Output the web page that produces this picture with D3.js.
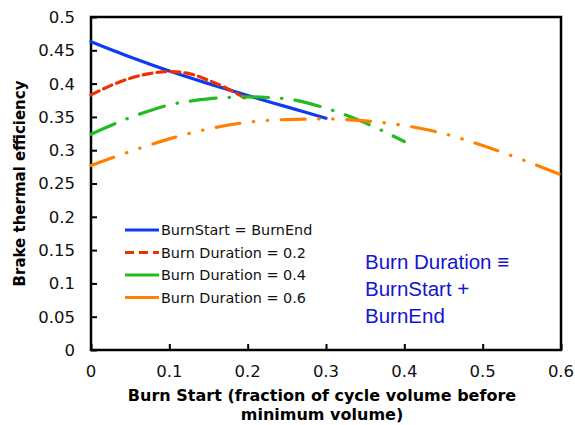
<!DOCTYPE html>
<html>
<head>
<meta charset="utf-8">
<script src="https://cdn.jsdelivr.net/npm/d3@7"></script>
<style>
  html, body { margin: 0; padding: 0; background: #fff; }
  svg { display: block; }
</style>
</head>
<body>
<svg id="chart" width="575" height="425"></svg>
<script>
// Brake thermal efficiency vs. burn start, one curve per burn duration
const burnStartEqualEnd = [
  [0.00, 0.463], [0.05, 0.440], [0.10, 0.419], [0.15, 0.400],
  [0.20, 0.382], [0.25, 0.365], [0.30, 0.348]
];
const burnDuration02 = [
  [0.00, 0.383], [0.025, 0.397], [0.05, 0.408], [0.075, 0.415], [0.10, 0.418],
  [0.125, 0.415], [0.15, 0.405], [0.175, 0.392], [0.20, 0.376]
];
const burnDuration04 = [
  [0.00, 0.324], [0.05, 0.349], [0.10, 0.368], [0.15, 0.377], [0.20, 0.380],
  [0.25, 0.377], [0.30, 0.363], [0.35, 0.341], [0.40, 0.313]
];
const burnDuration06 = [
  [0.00, 0.277], [0.05, 0.298], [0.10, 0.317], [0.15, 0.332], [0.20, 0.342],
  [0.25, 0.346], [0.30, 0.347], [0.35, 0.344], [0.40, 0.337], [0.45, 0.325],
  [0.50, 0.307], [0.55, 0.286], [0.60, 0.263]
];
const seriesNames = ["BurnStart = BurnEnd", "Burn Duration = 0.2", "Burn Duration = 0.4", "Burn Duration = 0.6"];
const xTicks = [0, 0.1, 0.2, 0.3, 0.4, 0.5, 0.6];
const yTicks = [0, 0.05, 0.1, 0.15, 0.2, 0.25, 0.3, 0.35, 0.4, 0.45, 0.5];

const series = [
  { name: seriesNames[0], data: burnStartEqualEnd, color: "#0a3cf0", dash: null,               legendDash: null },
  { name: seriesNames[1], data: burnDuration02,    color: "#ee3000", dash: "9,5",              legendDash: "9,5" },
  { name: seriesNames[2], data: burnDuration04,    color: "#22bb22", dash: "26,13,0.5,13",     legendDash: null },
  { name: seriesNames[3], data: burnDuration06,    color: "#ff8000", dash: "24,13.5,0.5,13.5,0.5,13.5", legendDash: null }
];

const svg = d3.select("#chart");
const m = { left: 91, right: 561, top: 17, bottom: 350 };

const x = d3.scaleLinear().domain([0, 0.6]).range([m.left, m.right]);
const y = d3.scaleLinear().domain([0, 0.5]).range([m.bottom, m.top]);

const sans = "'DejaVu Sans', Verdana, sans-serif";

// Plot frame
svg.append("rect")
  .attr("x", m.left).attr("y", m.top)
  .attr("width", m.right - m.left).attr("height", m.bottom - m.top)
  .attr("fill", "none").attr("stroke", "#000").attr("stroke-width", 2.5);

// Y axis: ticks point inward
const yAxis = svg.append("g")
  .attr("transform", `translate(${m.left},0)`)
  .call(d3.axisRight(y).tickValues(yTicks).tickSize(6).tickFormat(""));
yAxis.select(".domain").remove();
yAxis.selectAll("line").attr("stroke", "#000").attr("stroke-width", 2);
svg.append("g").selectAll("text").data(yTicks).join("text")
  .attr("x", 75).attr("y", d => y(d)).attr("dy", "0.36em")
  .attr("text-anchor", "end")
  .attr("font-family", sans).attr("font-size", 16.5).attr("fill", "#111")
  .text(d => d3.format("~g")(d));

// X axis: ticks point inward
const xAxis = svg.append("g")
  .attr("transform", `translate(0,${m.bottom})`)
  .call(d3.axisTop(x).tickValues(xTicks).tickSize(6).tickFormat(""));
xAxis.select(".domain").remove();
xAxis.selectAll("line").attr("stroke", "#000").attr("stroke-width", 2);
svg.append("g").selectAll("text").data(xTicks).join("text")
  .attr("x", d => x(d)).attr("y", 377)
  .attr("text-anchor", "middle")
  .attr("font-family", sans).attr("font-size", 16.5).attr("fill", "#111")
  .text(d => d3.format("~g")(d));

// Axis titles
const xTitle = ["Burn Start (fraction of cycle volume before", "minimum volume)"];
svg.append("g").selectAll("text").data(xTitle).join("text")
  .attr("x", 322).attr("y", (d, i) => 400.5 + i * 19.5)
  .attr("text-anchor", "middle")
  .attr("font-family", sans).attr("font-weight", "bold").attr("font-size", 16)
  .text(d => d);
svg.append("text")
  .attr("transform", `translate(25,${(m.top + m.bottom) / 2}) rotate(-90)`)
  .attr("text-anchor", "middle")
  .attr("font-family", sans).attr("font-weight", "bold").attr("font-size", 15)
  .text("Brake thermal efficiency");

// Curves
const line = d3.line()
  .x(d => x(d[0])).y(d => y(d[1]))
  .curve(d3.curveMonotoneX);

svg.append("g").selectAll("path").data(series).join("path")
  .attr("d", d => line(d.data))
  .attr("fill", "none")
  .attr("stroke", d => d.color)
  .attr("stroke-width", 3.2)
  .attr("stroke-linecap", "round")
  .attr("stroke-dasharray", d => d.dash);

// Legend
const legend = svg.append("g");
const rows = legend.selectAll("g").data(series).join("g")
  .attr("transform", (d, i) => `translate(0,${230 + i * 22.5})`);
rows.append("line")
  .attr("x1", 125).attr("x2", 159).attr("y1", 0).attr("y2", 0)
  .attr("stroke", d => d.color).attr("stroke-width", 3)
  .attr("stroke-dasharray", d => d.legendDash);
rows.append("text")
  .attr("x", 161).attr("y", 0).attr("dy", "0.36em")
  .attr("font-family", sans).attr("font-size", 14.4).attr("fill", "#111")
  .text(d => d.name);

// Definition note
const note = ["Burn Duration \u2261", "BurnStart +", "BurnEnd"];
svg.append("g").selectAll("text").data(note).join("text")
  .attr("x", 365).attr("y", (d, i) => 269 + i * 27)
  .attr("font-family", "'Liberation Sans', Arial, sans-serif")
  .attr("font-size", 20.5).attr("fill", "#1414d2")
  .text(d => d);
</script>
</body>
</html>
